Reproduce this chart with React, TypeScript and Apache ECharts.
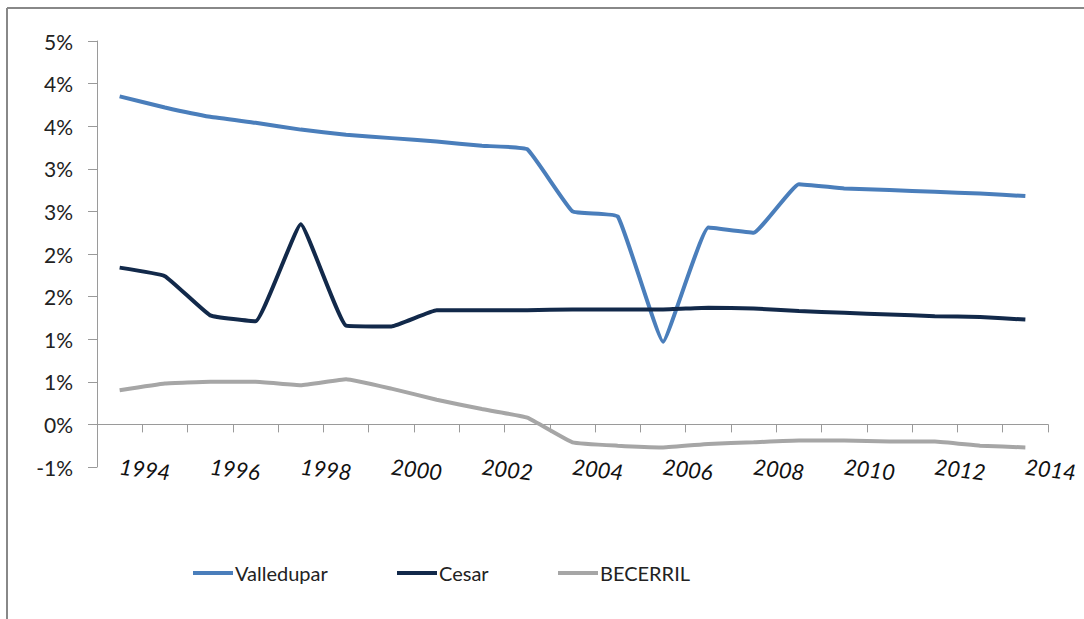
import React, { useEffect, useRef } from "react";
import * as echarts from "echarts";

const years = ["1994","1995","1996","1997","1998","1999","2000","2001","2002","2003","2004","2005","2006","2007","2008","2009","2010","2011","2012","2013","2014"];
const valledupar = [3.85,3.72,3.61,3.54,3.46,3.40,3.36,3.32,3.27,3.23,2.50,2.44,0.97,2.31,2.25,2.82,2.77,2.75,2.73,2.71,2.68];
const cesar = [1.84,1.74,1.28,1.21,2.35,1.16,1.15,1.34,1.34,1.34,1.35,1.35,1.35,1.37,1.36,1.33,1.31,1.29,1.27,1.26,1.23];
const becerril = [0.40,0.48,0.50,0.50,0.46,0.53,0.42,0.29,0.18,0.08,-0.21,-0.25,-0.27,-0.23,-0.21,-0.19,-0.19,-0.20,-0.20,-0.25,-0.27];
const seriesNames = ["Valledupar", "Cesar", "BECERRIL"];

const FONT = "Lato, 'Open Sans', sans-serif";

export default function App() {
  const ref = useRef<HTMLDivElement>(null);
  useEffect(() => {
    if (!ref.current) return;
    const chart = echarts.init(ref.current, null, { renderer: "svg" });
    const fmt = (v: number) => {
      const r = Math.round(Math.abs(v) + 1e-9) * Math.sign(v);
      return (r === 0 ? 0 : r) + "%";
    };
    const legendLefts = [193, 397, 558];
    const legendCommon = {
      top: 563,
      padding: 0,
      icon: "rect",
      itemWidth: 40,
      itemHeight: 4,
      textStyle: { fontFamily: FONT, fontSize: 20, color: "#222", padding: [0, 0, 0, -3] },
    };
    chart.setOption({
      animation: false,
      backgroundColor: "#fff",
      grid: { left: 97, right: 36, top: 41, bottom: 152 },
      legend: seriesNames.map((n, i) => ({ ...legendCommon, left: legendLefts[i], data: [n] })),
      xAxis: [
        {
          type: "category",
          data: years,
          boundaryGap: true,
          axisLine: { onZero: true, lineStyle: { color: "#9a9a9a", width: 1 } },
          axisTick: { show: true, length: 8, lineStyle: { color: "#9a9a9a" } },
          axisLabel: { show: false },
          splitLine: { show: false },
        },
        {
          type: "category",
          data: years,
          position: "bottom",
          boundaryGap: true,
          axisLine: { show: false },
          axisTick: { show: false },
          axisLabel: {
            interval: 1,
            rotate: -7,
            margin: -1,
            fontFamily: FONT,
            fontStyle: "italic",
            fontSize: 22,
            color: "#111",
          },
        },
      ],
      yAxis: {
        type: "value",
        min: -0.5,
        max: 4.5,
        interval: 0.5,
        axisLine: { show: true, lineStyle: { color: "#9a9a9a", width: 1 } },
        axisTick: { show: true, length: 9, lineStyle: { color: "#9a9a9a" } },
        splitLine: { show: false },
        axisLabel: { formatter: fmt, fontFamily: FONT, fontSize: 21, color: "#222", margin: 24 },
      },
      series: [
        { name: seriesNames[0], type: "line", data: valledupar, symbol: "none", smooth: 0.1, lineStyle: { color: "#4a7ebb", width: 4 }, itemStyle: { color: "#4a7ebb" } },
        { name: seriesNames[1], type: "line", data: cesar, symbol: "none", smooth: 0.1, lineStyle: { color: "#12294a", width: 4 }, itemStyle: { color: "#12294a" } },
        { name: seriesNames[2], type: "line", data: becerril, symbol: "none", smooth: 0.1, lineStyle: { color: "#a6a6a6", width: 4 }, itemStyle: { color: "#a6a6a6" } },
      ],
      graphic: [
        { type: "line", shape: { x1: 7, y1: 8, x2: 1084, y2: 8 }, style: { stroke: "#888", lineWidth: 2 } },
        { type: "line", shape: { x1: 7, y1: 8, x2: 7, y2: 619 }, style: { stroke: "#888", lineWidth: 2 } },
      ],
    });
    return () => chart.dispose();
  }, []);
  return <div ref={ref} style={{ position: "absolute", left: 0, top: 0, width: 1084, height: 619 }} />;
}
